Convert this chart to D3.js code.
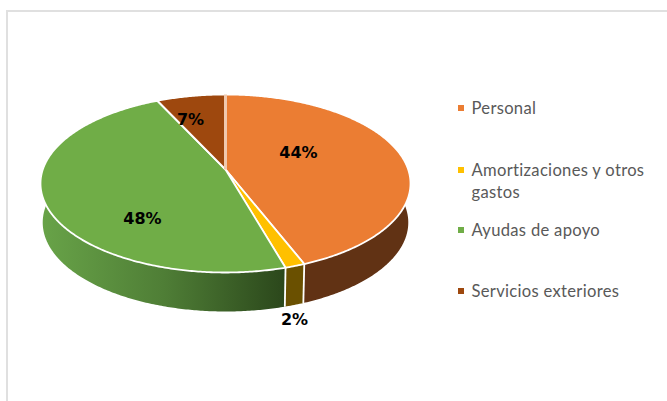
<!DOCTYPE html>
<html><head><meta charset="utf-8">
<script src="https://cdn.jsdelivr.net/npm/d3@7"></script>
<style>html,body{margin:0;padding:0;background:#fff;overflow:hidden}svg{display:block}</style>
</head><body><svg id="c" width="667" height="401"></svg>
<script>
const categories = ["Personal", "Amortizaciones y otros gastos", "Ayudas de apoyo", "Servicios exteriores"];
const values = [44.0, 1.5, 47.5, 7.0];
const labels = ["44%", "2%", "48%", "7%"];
const topColors = ["#EB7D33", "#FFC000", "#70AD47", "#9E480E"];
const wallColors = ["#613214", "#6A5000", "url(#greenWall)", "#613214"];

const svg = d3.select("#c");
// frame
const frame = svg.append("g").attr("stroke", "#e0e0e0").attr("stroke-width", 2);
frame.append("line").attr("x1", 6).attr("x2", 667).attr("y1", 11).attr("y2", 11);
frame.append("line").attr("x1", 7).attr("x2", 7).attr("y1", 10).attr("y2", 401);

// projective mapping of the unit disc on to the tilted top of the pie
const cx = 225.5, cy = 169.5, R = 182.7, S = 86.8, p = 0.1573, depth = 39, shrink = 0.988;
const proj = a => {
  const u = Math.sin(a), v = -Math.cos(a), w = 1 - p * v;
  return [cx + R * u / w, cy + S * v / w];
};
const low = ([x, y]) => [cx + (x - cx) * shrink, y + depth];
const arcs = d3.pie().sort(null).value(d => d)(values);
const samples = d => {
  const n = Math.max(2, Math.ceil((d.endAngle - d.startAngle) / 0.01));
  return d3.range(n + 1).map(i => d.startAngle + (d.endAngle - d.startAngle) * i / n);
};
const line = d3.line();

const grad = svg.append("defs").append("linearGradient").attr("id", "greenWall")
  .attr("gradientUnits", "userSpaceOnUse").attr("x1", 42).attr("x2", 285).attr("y1", 0).attr("y2", 0);
grad.append("stop").attr("offset", 0).attr("stop-color", "#68A348");
grad.append("stop").attr("offset", 0.5).attr("stop-color", "#4F7E36");
grad.append("stop").attr("offset", 1).attr("stop-color", "#2B471B");

// side walls
svg.append("g").selectAll("path").data(arcs).join("path")
  .attr("d", d => {
    const rim = samples(d).map(proj);
    return line(rim.concat(rim.map(low).reverse())) + "Z";
  })
  .attr("fill", (d, i) => wallColors[i]);
// wall separators
svg.append("g").selectAll("path").data(arcs.slice(0, 2)).join("path")
  .attr("d", d => { const t = proj(d.endAngle); return line([t, low(t)]); })
  .attr("stroke", "#fff").attr("stroke-width", 1.8).attr("fill", "none");

// top faces
svg.append("g").selectAll("path").data(arcs).join("path")
  .attr("d", d => line([[cx, cy]].concat(samples(d).map(proj))) + "Z")
  .attr("fill", (d, i) => topColors[i])
  .attr("stroke", "#fff").attr("stroke-width", 1.8).attr("stroke-linejoin", "round");
// pale seam where the pie starts
svg.append("path").datum(arcs[0])
  .attr("d", d => line([[cx, cy], proj(d.startAngle)]))
  .attr("stroke", "#F0C9AE").attr("stroke-width", 3).attr("fill", "none");

// data labels
const labelPos = [[298.5, 152], [294.5, 319], [142.5, 218], [190.5, 119]];
svg.append("g").selectAll("text").data(labels).join("text")
  .attr("x", (d, i) => labelPos[i][0]).attr("y", (d, i) => labelPos[i][1] + 6)
  .attr("text-anchor", "middle")
  .attr("font-family", "'DejaVu Sans'").attr("font-weight", 700).attr("font-size", 16)
  .attr("fill", "#000").text(d => d);

// legend
const legendLines = [["Personal"], ["Amortizaciones y otros", "gastos"], ["Ayudas de apoyo"], ["Servicios exteriores"]];
const legendY = [114, 176, 236, 297];
const leg = svg.append("g").selectAll("g").data(categories).join("g");
leg.append("rect").attr("x", 458).attr("y", (d, i) => legendY[i] - 9).attr("width", 6).attr("height", 6)
  .attr("fill", (d, i) => topColors[i]);
leg.each(function (d, i) {
  d3.select(this).selectAll("text").data(legendLines[i]).join("text")
    .attr("x", 471.5).attr("y", (t, j) => legendY[i] + j * 22)
    .attr("font-family", "Lato").attr("font-size", 16.6).attr("letter-spacing", 0.3)
    .attr("fill", "#595959").text(t => t);
});
</script></body></html>
